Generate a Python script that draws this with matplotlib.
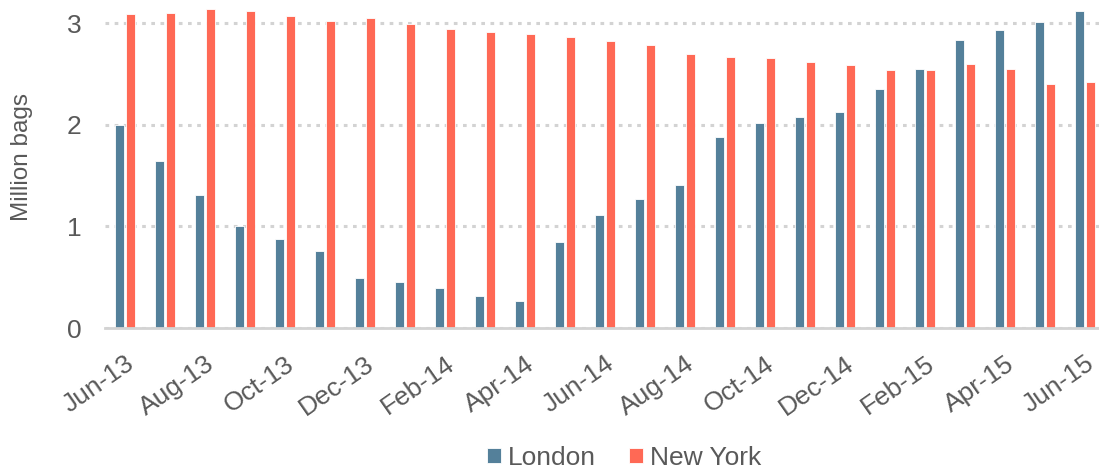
import numpy as np
import matplotlib.pyplot as plt

# ── Datos ──
meses = ["Jun-13", "Jul-13", "Aug-13", "Sep-13", "Oct-13", "Nov-13", "Dec-13",
         "Jan-14", "Feb-14", "Mar-14", "Apr-14", "May-14", "Jun-14", "Jul-14",
         "Aug-14", "Sep-14", "Oct-14", "Nov-14", "Dec-14", "Jan-15", "Feb-15",
         "Mar-15", "Apr-15", "May-15", "Jun-15"]

london = [2.00, 1.64, 1.31, 1.00, 0.88, 0.76, 0.49, 0.45, 0.39, 0.31, 0.27,
          0.85, 1.11, 1.27, 1.41, 1.88, 2.02, 2.08, 2.12, 2.35, 2.55, 2.83,
          2.93, 3.01, 3.12]

new_york = [3.09, 3.10, 3.14, 3.12, 3.07, 3.02, 3.05, 2.99, 2.94, 2.91, 2.89,
            2.86, 2.82, 2.78, 2.70, 2.67, 2.66, 2.62, 2.59, 2.54, 2.54, 2.60,
            2.55, 2.40, 2.42]

# ── Estilo ──
AZUL = "#54809A"
ROJO = "#FF6955"
GRIS_TXT = "#595959"
GRIS_LIN = "#d3d3d3"
plt.rcParams["font.family"] = ["Liberation Sans", "DejaVu Sans"]

fig = plt.figure(figsize=(10.99, 4.70), dpi=100)
ax = fig.add_axes([105 / 1099, 1 - 328 / 470, 1 - 105 / 1099, (328 - 2.7) / 470])

x = np.arange(len(meses))
ancho = 0.23
ax.bar(x - 0.1375, london, ancho, color=AZUL, edgecolor="white", linewidth=0.6,
       label="London", zorder=3)
ax.bar(x + 0.1375, new_york, ancho, color=ROJO, edgecolor="white", linewidth=0.6,
       label="New York", zorder=3)

ax.set_xlim(-0.5, 24.35)
ax.set_ylim(0, 3.2)
ax.set_yticks([0, 1, 2, 3])
ax.yaxis.grid(True, linestyle=(0, (1.2, 1.8)), color=GRIS_LIN, linewidth=2.2, zorder=0)
ax.set_axisbelow(True)

for lado in ["top", "right", "left"]:
    ax.spines[lado].set_visible(False)
ax.spines["bottom"].set_color(GRIS_LIN)
ax.spines["bottom"].set_linewidth(2)
ax.spines["bottom"].set_zorder(4)

ax.set_xticks(x[::2])
ax.set_xticklabels(meses[::2], rotation=35, ha="right", rotation_mode="anchor")
ax.tick_params(axis="x", length=0, pad=17, labelsize=19, labelcolor=GRIS_TXT)
ax.tick_params(axis="y", length=0, pad=17, labelsize=19, labelcolor=GRIS_TXT)

ax.set_ylabel("Million bags", fontsize=17.5, color=GRIS_TXT)
ax.yaxis.set_label_coords(-0.072, 0.526)

fig.legend(loc="center", bbox_to_anchor=(624 / 1099, 0.026), ncol=2, frameon=False,
           fontsize=19, labelcolor=GRIS_TXT, handlelength=0.53, handleheight=0.53,
           handletextpad=0.27, columnspacing=1.25, borderpad=0)

fig.savefig("out.png", dpi=100)
